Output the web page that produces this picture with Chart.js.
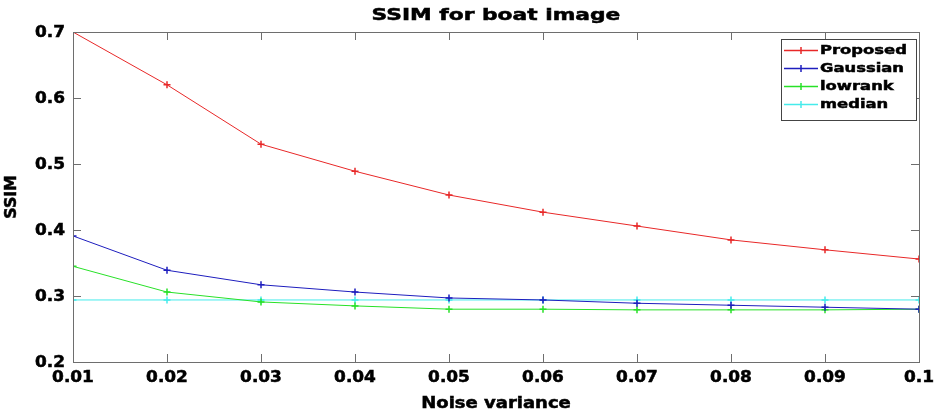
<!DOCTYPE html>
<html>
<head>
<meta charset="utf-8">
<script src="https://cdn.jsdelivr.net/npm/chart.js@4.4.0/dist/chart.umd.min.js"></script>
<style>
  html, body { margin: 0; padding: 0; background: #fff; }
  #wrap { width: 936px; height: 418px; }
</style>
</head>
<body>
<div id="wrap"><canvas id="ssimChart"></canvas></div>
<script>
// noise variance (x) and SSIM values
var variancias = [0.01, 0.02, 0.03, 0.04, 0.05, 0.06, 0.07, 0.08, 0.09, 0.1];
var proposed = [0.700, 0.620, 0.530, 0.489, 0.453, 0.427, 0.406, 0.385, 0.370, 0.356];
var gaussian = [0.391, 0.339, 0.317, 0.306, 0.297, 0.294, 0.289, 0.286, 0.283, 0.280];
var lowrank  = [0.345, 0.306, 0.291, 0.285, 0.280, 0.280, 0.279, 0.279, 0.279, 0.280];
var median   = [0.294, 0.294, 0.294, 0.294, 0.294, 0.294, 0.294, 0.294, 0.294, 0.294];
var yTicks = [0.2, 0.3, 0.4, 0.5, 0.6, 0.7];
var yTickLabels = ['0.2', '0.3', '0.4', '0.5', '0.6', '0.7'];
var xTickLabels = ['0.01', '0.02', '0.03', '0.04', '0.05', '0.06', '0.07', '0.08', '0.09', '0.1'];
var titulo = 'SSIM for boat image';
var tituloX = 'Noise variance';
var tituloY = 'SSIM';

var fonte = 'DejaVu Sans';
var corEixo = '#6e6e6e';

function makeSerie(nome, valores, cor) {
	var pontos = [];
	for (var i = 0; i < variancias.length; i++) {
		pontos.push({ x: variancias[i], y: valores[i] });
	}
	return {
		label: nome,
		data: pontos,
		borderColor: cor,
		backgroundColor: cor,
		borderWidth: 1,
		pointStyle: 'cross',
		pointRadius: 3.5,
		pointBorderWidth: 1.5,
		tension: 0
	};
}

// the original figure has wide, heavy bold text: draw it scaled horizontally
function textoLargo(ctx, txt, x, y, tam, esticar, alinhar) {
	ctx.save();
	ctx.font = 'bold ' + tam + 'px ' + fonte;
	ctx.fillStyle = '#000';
	ctx.strokeStyle = '#000';
	ctx.lineWidth = 0.5;
	ctx.textBaseline = 'middle';
	ctx.textAlign = alinhar || 'center';
	ctx.translate(x, y);
	ctx.scale(esticar, 1);
	ctx.fillText(txt, 0, 0);
	ctx.strokeText(txt, 0, 0);
	ctx.restore();
}

// box + inward ticks, matlab style
var caixaPlugin = {
	id: 'caixa',
	afterDatasetsDraw: function (chart) {
		var ctx = chart.ctx, a = chart.chartArea;
		var sx = chart.scales.x, sy = chart.scales.y;
		ctx.save();
		ctx.strokeStyle = corEixo;
		ctx.lineWidth = 1;
		ctx.beginPath();
		variancias.forEach(function (v) {
			var px = Math.round(sx.getPixelForValue(v)) + 0.5;
			ctx.moveTo(px, a.bottom); ctx.lineTo(px, a.bottom - 8);
			ctx.moveTo(px, a.top); ctx.lineTo(px, a.top + 8);
		});
		yTicks.forEach(function (v) {
			var py = Math.round(sy.getPixelForValue(v)) + 0.5;
			ctx.moveTo(a.left, py); ctx.lineTo(a.left + 8, py);
			ctx.moveTo(a.right, py); ctx.lineTo(a.right - 8, py);
		});
		ctx.stroke();
		ctx.strokeRect(Math.round(a.left) + 0.5, Math.round(a.top) + 0.5,
			Math.round(a.right - a.left), Math.round(a.bottom - a.top));
		ctx.restore();
	}
};

// titles and tick labels
var textosPlugin = {
	id: 'textos',
	afterDraw: function (chart) {
		var ctx = chart.ctx, a = chart.chartArea;
		var sx = chart.scales.x, sy = chart.scales.y;
		var meioX = (a.left + a.right) / 2;
		textoLargo(ctx, titulo, meioX, 16, 16, 1.36);
		textoLargo(ctx, tituloX, meioX, 404, 15, 1.2);
		xTickLabels.forEach(function (t, i) {
			textoLargo(ctx, t, sx.getPixelForValue(variancias[i]), a.bottom + 16, 15, 1.13);
		});
		yTickLabels.forEach(function (t, i) {
			textoLargo(ctx, t, a.left - 8, sy.getPixelForValue(yTicks[i]) + 1, 15, 1.13, 'right');
		});
		ctx.save();
		ctx.translate(12, (a.top + a.bottom) / 2);
		ctx.rotate(-Math.PI / 2);
		textoLargo(ctx, tituloY, 0, 0, 15, 1.05);
		ctx.restore();
	}
};

// legend box inside the plot, top right
var legendaPlugin = {
	id: 'legendaCaixa',
	afterDraw: function (chart) {
		var ctx = chart.ctx, a = chart.chartArea;
		var larg = 135, alt = 81;
		var x0 = Math.round(a.right) - 3 - larg, y0 = Math.round(a.top) + 7;
		ctx.save();
		ctx.fillStyle = '#fff';
		ctx.fillRect(x0, y0, larg, alt);
		ctx.strokeStyle = '#444';
		ctx.lineWidth = 1;
		ctx.strokeRect(x0 + 0.5, y0 + 0.5, larg, alt);
		chart.data.datasets.forEach(function (ds, i) {
			var yy = y0 + 11 + i * 18;
			ctx.strokeStyle = ds.borderColor;
			ctx.beginPath();
			ctx.moveTo(x0 + 3, yy + 0.5); ctx.lineTo(x0 + 37, yy + 0.5);
			ctx.moveTo(x0 + 20, yy - 3); ctx.lineTo(x0 + 20, yy + 4);
			ctx.moveTo(x0 + 16.5, yy + 0.5); ctx.lineTo(x0 + 23.5, yy + 0.5);
			ctx.lineWidth = 1.5;
			ctx.stroke();
			textoLargo(ctx, ds.label, x0 + 39, yy + 1, 13, 1.26, 'left');
		});
		ctx.restore();
	}
};

var ctx = document.getElementById('ssimChart').getContext('2d');
new Chart(ctx, {
	type: 'line',
	data: {
		datasets: [
			makeSerie('Proposed', proposed, 'rgb(232,40,40)'),
			makeSerie('Gaussian', gaussian, 'rgb(30,30,190)'),
			makeSerie('lowrank', lowrank, 'rgb(40,225,40)'),
			makeSerie('median', median, 'rgb(70,235,235)')
		]
	},
	options: {
		responsive: true,
		maintainAspectRatio: false,
		animation: false,
		layout: { padding: { top: 32, right: 17, bottom: 0, left: 0 } },
		plugins: {
			legend: { display: false },
			tooltip: { enabled: false },
			title: { display: false }
		},
		scales: {
			x: {
				type: 'linear',
				min: 0.01,
				max: 0.1,
				afterFit: function (scale) {
					scale.height = 56;
					scale.paddingLeft = 0;
					scale.paddingRight = 0;
				},
				afterBuildTicks: function (scale) {
					scale.ticks = variancias.map(function (v) { return { value: v }; });
				},
				grid: { display: false, drawTicks: false },
				border: { display: false },
				ticks: { display: false }
			},
			y: {
				min: 0.2,
				max: 0.7,
				afterFit: function (scale) {
					scale.width = 73;
					scale.paddingTop = 0;
					scale.paddingBottom = 0;
				},
				afterBuildTicks: function (scale) {
					scale.ticks = yTicks.map(function (v) { return { value: v }; });
				},
				grid: { display: false, drawTicks: false },
				border: { display: false },
				ticks: { display: false }
			}
		}
	},
	plugins: [caixaPlugin, textosPlugin, legendaPlugin]
});
</script>
</body>
</html>
